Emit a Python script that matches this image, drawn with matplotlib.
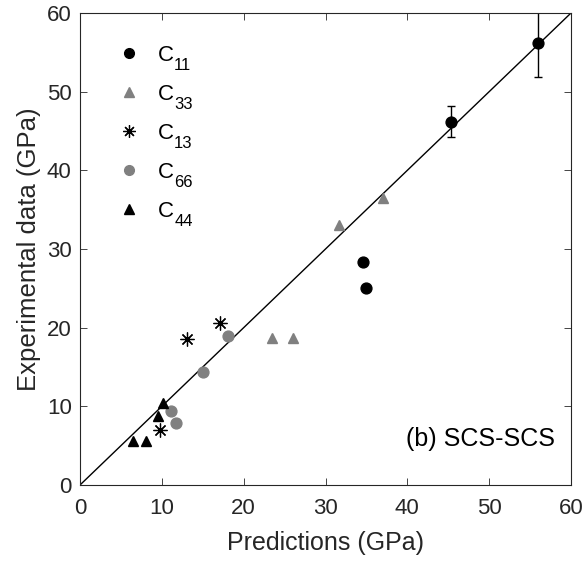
import matplotlib
matplotlib.use("Agg")
import matplotlib.pyplot as plt
from matplotlib.lines import Line2D

plt.rcParams['font.family'] = ['Liberation Sans', 'DejaVu Sans']

# Data (predictions, experimental)
c11_pred = [56.0, 45.3, 34.6, 34.9]
c11_exp = [56.2, 46.2, 28.3, 25.1]
c11_err = [4.3, 2.0]

c33_pred = [37.0, 31.6, 23.5, 26.0]
c33_exp = [36.5, 33.1, 18.7, 18.7]

c13_pred = [17.1, 13.1, 9.8]
c13_exp = [20.6, 18.5, 7.0]

c66_pred = [18.1, 15.0, 11.1, 11.7]
c66_exp = [19.0, 14.4, 9.4, 7.9]

c44_pred = [10.1, 9.5, 6.5, 8.1]
c44_exp = [10.4, 8.8, 5.6, 5.6]

xticks = [0, 10, 20, 30, 40, 50, 60]
yticks = [0, 10, 20, 30, 40, 50, 60]
legend_subs = ['11', '33', '13', '66', '44']

grey = '#808080'
fig = plt.figure(figsize=(5.86, 5.62), dpi=100)
ax = fig.add_axes([80/586, 1-485/562, 491/586, 472/562])

ax.plot([0, 60], [0, 60], color='black', lw=1.0, zorder=1)

ms = 7.8
ax.errorbar(c11_pred[:2], c11_exp[:2], yerr=c11_err,
            fmt='none', ecolor='black', elinewidth=1.0, capsize=3, capthick=1.0, zorder=2)
ax.plot(c11_pred, c11_exp, 'o', color='black', ms=ms, ls='none', zorder=3)
ax.plot(c33_pred, c33_exp, '^', color=grey, ms=ms, mec=grey, ls='none', zorder=3)
ax.plot(c13_pred, c13_exp, marker=(8, 2, 0), color='black', ms=10, mew=0.9, ls='none', zorder=3)
ax.plot(c66_pred, c66_exp, 'o', color=grey, ms=ms, ls='none', zorder=3)
ax.plot(c44_pred, c44_exp, '^', color='black', ms=ms, ls='none', zorder=3)

ax.set_xlim(0, 60)
ax.set_ylim(0, 60)
ax.set_xticks(xticks)
ax.set_yticks(yticks)
ax.tick_params(direction='in', top=True, right=True, length=5, width=0.6,
               labelsize=16, color='#262626', labelcolor='#262626')
ax.tick_params(axis='x', pad=9)
ax.tick_params(axis='y', pad=6)
for s in ax.spines.values():
    s.set_linewidth(0.8)
    s.set_color('#262626')

ax.set_xlabel('Predictions (GPa)', fontsize=18, color='#262626', labelpad=9)
ax.set_ylabel('Experimental data (GPa)', fontsize=18.5, color='#262626', labelpad=4)

handles = [
    Line2D([], [], marker='o', color='black', ls='none', ms=7),
    Line2D([], [], marker='^', color=grey, ls='none', ms=7.5),
    Line2D([], [], marker=(8, 2, 0), color='black', ls='none', ms=9, mew=0.9),
    Line2D([], [], marker='o', color=grey, ls='none', ms=7),
    Line2D([], [], marker='^', color='black', ls='none', ms=7.5),
]
labels = ['C'] * 5
leg = ax.legend(handles, labels, loc='upper left', bbox_to_anchor=(0.055, 0.951), frameon=False,
                fontsize=16, labelspacing=0.81, handletextpad=0.68, handlelength=1.2,
                borderaxespad=0)

fig.canvas.draw()
inv = fig.transFigure.inverted()
for t, sub in zip(leg.get_texts(), legend_subs):
    bb = t.get_window_extent()
    x0, y0 = inv.transform((bb.x1 + 0.5, bb.y0 - 4))
    fig.text(x0, y0, sub, fontsize=12, ha='left', va='baseline', color='black')

ax.text(0.968, 0.097, '(b) SCS-SCS', transform=ax.transAxes, ha='right', va='center',
        fontsize=18, color='black')

fig.savefig('out.png', dpi=100)
